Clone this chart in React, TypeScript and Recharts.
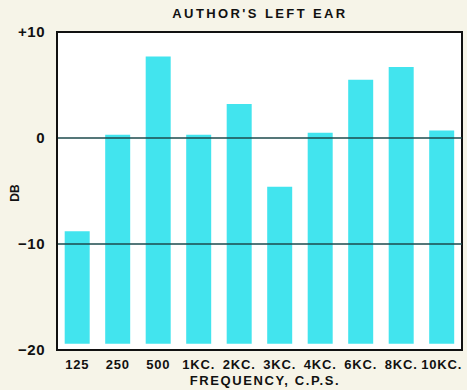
import React from 'react';
import {
  BarChart,
  Bar,
  XAxis,
  YAxis,
  CartesianGrid,
  ReferenceLine,
  ReferenceArea,
} from 'recharts';

const frequencies = ['125', '250', '500', '1KC.', '2KC.', '3KC.', '4KC.', '6KC.', '8KC.', '10KC.'];
const levels = [-8.8, 0.3, 7.7, 0.3, 3.2, -4.6, 0.5, 5.5, 6.7, 0.7];
const baseLevel = -19.4;
const yTicks = [10, 0, -10, -20];
const gridLevels = [0, -10];

const data = frequencies.map((f, i) => ({ name: f, range: [baseLevel, levels[i]] }));

const font = '"Liberation Sans", Arial, sans-serif';

const centered = (center: number): React.CSSProperties => ({
  position: 'absolute',
  left: center - 150,
  width: 300,
  textAlign: 'center',
  fontWeight: 700,
  color: '#111',
});

const App: React.FC = () => {
  return (
    <div
      style={{
        position: 'absolute',
        left: 0,
        top: 0,
        width: 467,
        height: 390,
        background: '#f6f4e8',
        fontFamily: font,
      }}
    >
      <div style={{ ...centered(260), top: 6, fontSize: 13, letterSpacing: 2.4 }}>
        AUTHOR'S LEFT EAR
      </div>
      <div
        style={{
          position: 'absolute',
          left: 6,
          top: 186,
          fontSize: 12,
          fontWeight: 700,
          color: '#111',
          transform: 'rotate(-90deg)',
        }}
      >
        DB
      </div>
      <div style={{ ...centered(265), top: 373, fontSize: 13, letterSpacing: 1.6 }}>
        FREQUENCY, C.P.S.
      </div>
      <BarChart
        width={467}
        height={390}
        data={data}
        margin={{ top: 32, right: 5, left: 0, bottom: 0 }}
        barCategoryGap="19%"
      >
        <CartesianGrid horizontal={false} vertical={false} fill="#ffffff" />
        <XAxis
          dataKey="name"
          height={40}
          tickLine={false}
          axisLine={{ stroke: '#111', strokeWidth: 2 }}
          tick={{ fill: '#111', fontSize: 13, fontWeight: 700, fontFamily: font, letterSpacing: 0.8 }}
          tickMargin={4}
          interval={0}
        />
        <YAxis
          domain={[-20, 10]}
          ticks={yTicks}
          width={57}
          tickLine={false}
          axisLine={{ stroke: '#111', strokeWidth: 2 }}
          tick={{ fill: '#111', fontSize: 15, fontWeight: 700, fontFamily: font, letterSpacing: 0.5 }}
          tickFormatter={(v: number) => (v > 0 ? `+${v}` : v < 0 ? `\u2212${-v}` : `${v}`)}
          tickMargin={6}
        />
        <Bar dataKey="range" fill="#42e4ee" isAnimationActive={false} />
        {gridLevels.map((g) => (
          <ReferenceLine key={g} y={g} stroke="#1d4a4c" strokeWidth={1.5} />
        ))}
        <ReferenceArea
          y1={-20}
          y2={10}
          fill="none"
          fillOpacity={0}
          stroke="#111"
          strokeWidth={2}
          ifOverflow="visible"
        />
      </BarChart>
    </div>
  );
};

export default App;
